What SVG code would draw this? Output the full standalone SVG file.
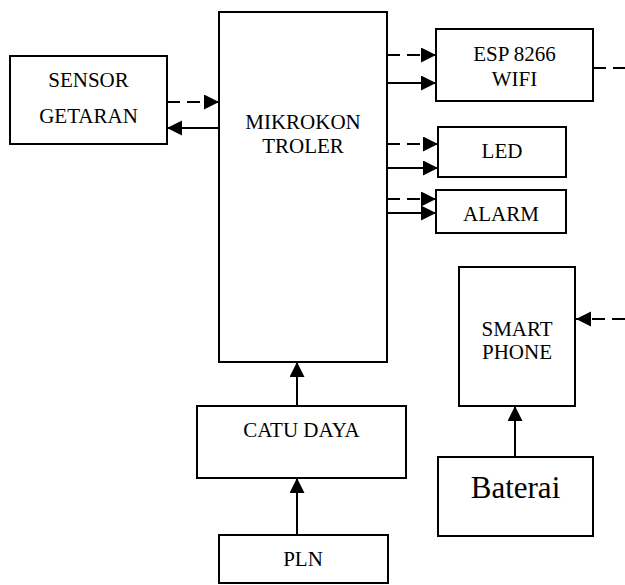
<svg xmlns="http://www.w3.org/2000/svg" width="625" height="585" viewBox="0 0 625 585">
<style>
.box{fill:#fff;stroke:#000;stroke-width:2}
.t{font-family:"Liberation Serif","Times New Roman",serif;font-size:21px;text-anchor:middle;fill:#000}
.big{font-size:31px}
.ln{stroke:#000;stroke-width:2;fill:none}
.d{stroke-dasharray:13 7}
</style>
<defs>
<marker id="ah" markerUnits="userSpaceOnUse" markerWidth="16" markerHeight="16" refX="15" refY="7.5" orient="auto">
<path d="M0,0 L15,7.5 L0,15 Z" fill="#000" stroke="none"/>
</marker>
</defs>
<rect width="625" height="585" fill="#fff"/>
<g id="connectors">
<line class="ln d" x1="167" y1="102" x2="219" y2="102" marker-end="url(#ah)"/>
<line class="ln" x1="219" y1="128" x2="167" y2="128" marker-end="url(#ah)"/>
<line class="ln d" x1="387" y1="55" x2="436" y2="55" marker-end="url(#ah)"/>
<line class="ln" x1="387" y1="83" x2="436" y2="83" marker-end="url(#ah)"/>
<line class="ln d" x1="387" y1="144" x2="438" y2="144" marker-end="url(#ah)"/>
<line class="ln" x1="387" y1="168" x2="438" y2="168" marker-end="url(#ah)"/>
<line class="ln d" x1="387" y1="199" x2="436" y2="199" marker-end="url(#ah)"/>
<line class="ln" x1="387" y1="213" x2="436" y2="213" marker-end="url(#ah)"/>
<line class="ln d" x1="593" y1="68" x2="625" y2="68"/>
<line class="ln d" x1="625" y1="319" x2="576" y2="319" marker-end="url(#ah)"/>
<line class="ln" x1="515" y1="457" x2="515" y2="406" marker-end="url(#ah)"/>
<line class="ln" x1="297" y1="406" x2="297" y2="362" marker-end="url(#ah)"/>
<line class="ln" x1="297" y1="535" x2="297" y2="478" marker-end="url(#ah)"/>
</g>
<g id="sensor">
<rect class="box" x="10" y="56" width="157" height="88"/>
<text class="t" x="88.5" y="87">SENSOR</text>
<text class="t" x="88.5" y="123">GETARAN</text>
</g>
<g id="mikrokontroler">
<rect class="box" x="219" y="12" width="168" height="350"/>
<text class="t" x="303" y="129">MIKROKON</text>
<text class="t" x="303" y="153">TROLER</text>
</g>
<g id="esp">
<rect class="box" x="436" y="29" width="157" height="72"/>
<text class="t" x="514.5" y="61">ESP 8266</text>
<text class="t" x="514.5" y="86">WIFI</text>
</g>
<g id="led">
<rect class="box" x="438" y="127" width="128" height="50"/>
<text class="t" x="502" y="158">LED</text>
</g>
<g id="alarm">
<rect class="box" x="436" y="190" width="130" height="43"/>
<text class="t" x="501" y="221">ALARM</text>
</g>
<g id="smartphone">
<rect class="box" x="459" y="267" width="116" height="139"/>
<text class="t" x="517" y="336">SMART</text>
<text class="t" x="517" y="359">PHONE</text>
</g>
<g id="baterai">
<rect class="box" x="438" y="457" width="155" height="79"/>
<text class="t big" x="515.5" y="498">Baterai</text>
</g>
<g id="catudaya">
<rect class="box" x="197" y="406" width="209" height="72"/>
<text class="t" x="301.5" y="437">CATU DAYA</text>
</g>
<g id="pln">
<rect class="box" x="219" y="535" width="169" height="48"/>
<text class="t" x="303" y="566">PLN</text>
</g>
</svg>
